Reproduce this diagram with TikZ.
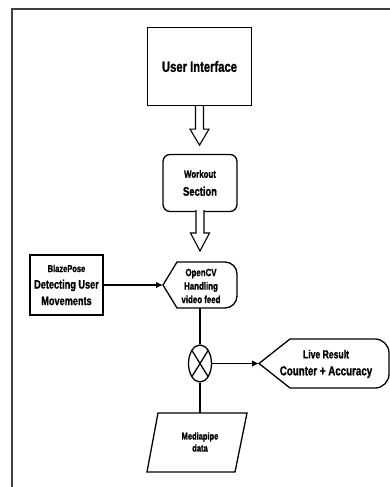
\documentclass[tikz,border=0pt]{standalone}
\usepackage{fontspec}
\setmainfont{Liberation Sans}
\newfontfamily\nf[FakeStretch=0.75,FakeBold=1.2]{Liberation Sans}
\usetikzlibrary{arrows.meta,shapes.geometric}
\begin{document}
\begin{tikzpicture}[x=1pt,y=1pt,
  ln/.style={line width=1.3pt},
  lbl/.style={font=\nf\bfseries, align=center, inner sep=0pt},
  conn/.style={line width=1.2pt},
  tip/.style={-{Latex[length=7pt,width=6.5pt]}},
  block/.style={line width=1.1pt, fill=white}]
\useasboundingbox (0,0) rectangle (390,-487);
\draw[line width=2pt, black!75] (390,-9) -- (12,-9) -- (12,-487);

% User Interface
\node[ln, draw, minimum width=104pt, minimum height=78pt, lbl, font=\nf\bfseries\fontsize{15}{17}\selectfont] (ui) at (199.5,-66.5) {User Interface};

% Workout Section
\node[ln, draw, rounded corners=7pt, minimum width=74pt, minimum height=57pt, lbl, font=\nf\bfseries\fontsize{12.5}{18}\selectfont] (ws) at (200,-183) {{\fontsize{10.5}{18}\selectfont Workout}\\Section};

% hollow block arrows
\draw[block] (ui.south) ++(-4,0) -- ++(0,-23) -- ++(-5.5,0) -- ++(9.5,-16) -- ++(9.5,16) -- ++(-5.5,0) -- ++(0,23);
\draw[block] (200,-210) ++(-4,0) -- ++(0,-23) -- ++(-5.5,0) -- ++(9.5,-18) -- ++(9.5,18) -- ++(-5.5,0) -- ++(0,23);

% OpenCV display shape
\draw[ln] (163,-285) coordinate (ocvL) -- (177,-262) -- (225,-262) arc[start angle=90,end angle=0,radius=12] -- (237,-296) arc[start angle=0,end angle=-90,radius=12] -- (177,-308) -- cycle;
\coordinate (ocvB) at (200,-308);
\node[lbl, font=\nf\bfseries\fontsize{10.5}{13.5}\selectfont] (ocv) at (201,-286) {OpenCV\\Handling\\video feed};

% BlazePose
\node[ln, draw, minimum width=73pt, minimum height=60pt, lbl, font=\nf\bfseries\fontsize{12.2}{16.5}\selectfont] (bp) at (66.5,-285) {{\fontsize{10}{16.5}\selectfont BlazePose}\\Detecting User\\Movements};
\draw[conn,tip] (bp.east) -- (ocvL);

% Live Result display shape
\draw[ln] (259,-363.5) coordinate (lrL) -- (290,-339) -- (375,-339) arc[start angle=90,end angle=0,radius=14] -- (389,-374) arc[start angle=0,end angle=-90,radius=14] -- (290,-388) -- cycle;
\node[lbl, font=\nf\bfseries\fontsize{13}{17}\selectfont] (lr) at (326,-364) {{\fontsize{11.5}{17}\selectfont Live Result}\\Counter + Accuracy};

% Mediapipe parallelogram
\draw[ln] (158,-413) -- (247,-413) -- (235,-472) -- (147,-472) -- cycle;
\coordinate (mpT) at (200,-413);
\node[lbl, font=\nf\bfseries\fontsize{10}{12}\selectfont] (mp) at (200,-442) {Mediapipe\\data};

% summing junction
\node[draw, ln, ellipse, minimum width=23pt, minimum height=37pt, inner sep=0pt] (mx) at (200,-363.5) {};
\draw[ln] (mx.center) ++(-8.1,13.1) -- ++(16.2,-26.2);
\draw[ln] (mx.center) ++(8.1,13.1) -- ++(-16.2,-26.2);

\draw[conn] (ocvB) -- (mx.north);
\draw[conn,tip] (mx.east) -- (lrL);
\draw[conn] (mx.south) -- (mpT);
\end{tikzpicture}
\end{document}
